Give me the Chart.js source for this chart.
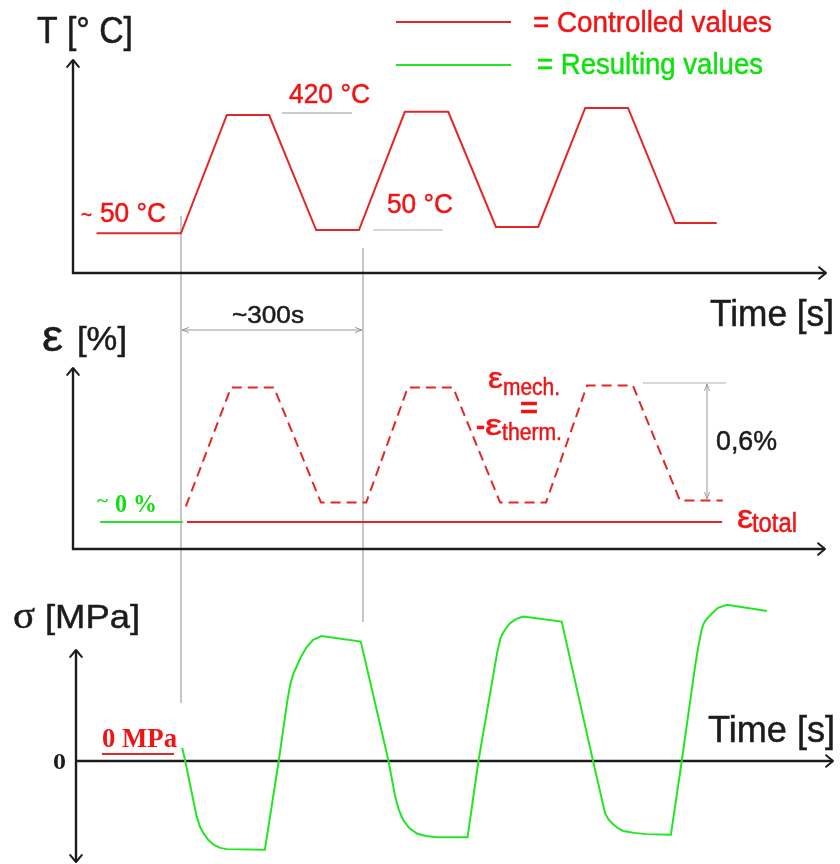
<!DOCTYPE html>
<html>
<head>
<meta charset="utf-8">
<script src="https://cdn.jsdelivr.net/npm/chart.js@4/dist/chart.umd.min.js"></script>
<style>
html,body{margin:0;padding:0;background:#fff;}
#wrap{position:relative;width:840px;height:864px;}
canvas{display:block;}
</style>
</head>
<body>
<div id="wrap"><canvas id="c" width="840" height="864"></canvas></div>
<script>
// ---------- DATA (time in s, t = 0 at start of first heating) ----------
const tempTime  = [-140, 0, 76, 146, 224, 295, 371, 443, 522, 592, 670, 741, 819, 888];
const tempValue = [50, 50, 420, 420, 60, 60, 430, 430, 70, 70, 442, 442, 82, 82];           // °C

const mechTime  = [8, 83, 154, 232, 307, 376, 451, 529, 605, 673, 749, 827, 898];
const mechValue = [0.08, 0.69, 0.69, 0.10, 0.10, 0.69, 0.69, 0.10, 0.10, 0.70, 0.70, 0.11, 0.11]; // %

const totalPreTime  = [-134, 3];
const totalPreValue = [0, 0];
const totalTime  = [10, 897];
const totalValue = [0, 0];

const stressTime  = [2, 7, 26, 31, 37, 45, 54, 65, 76, 139, 162, 176, 181, 186, 192, 199, 208, 219, 233, 298,
                     344, 355, 361, 368, 378, 391, 406, 424, 475, 493, 520, 524, 529, 532, 537, 545, 555, 567, 631,
                     683, 703, 709, 717, 725, 733, 751, 772, 812, 830, 852, 857, 863, 866, 870, 880, 890, 905, 971];
const stressValue = [21, 0, -89, -104, -115, -126, -134, -139, -141, -142, 0, 95, 122, 139, 152, 167, 182, 194, 200, 191,
                     0, -57, -78, -94, -107, -116, -120, -122, -122, 0, 151, 173, 194, 202, 210, 220, 227, 231, 223,
                     0, -84, -94, -102, -108, -112, -115, -117, -118, 0, 151, 181, 210, 219, 226, 236, 245, 250, 240]; // MPa

const cycleMarks = [0, 300]; // s

// ---------- helpers ----------
const H = 864;
function rangeFor(v1, p1, v2, p2) {
  const k = (v1 - v2) / (p2 - p1);
  return { min: v1 - (H - p1) * k, max: v1 + p1 * k };
}
const zip = (xs, ys) => xs.map((x, i) => ({ x: x, y: ys[i] }));

const RED = '#e32626';
const RED_TXT = '#f01414';
const GREEN = '#22e622';
const GREEN_TXT = '#10e010';
const DARK = '#1c1c1c';
const GRAY = '#b4b4b4';

const rT = rangeFor(50, 233.3, 420, 115);
const rE = rangeFor(0, 522, 0.6, 405);
const rS = rangeFor(0, 761, 200, 636);

function txt(ctx, s, x, y, font, color, w, sw) {
  ctx.save();
  ctx.font = font; ctx.fillStyle = color; ctx.strokeStyle = color;
  ctx.textAlign = 'left'; ctx.textBaseline = 'alphabetic';
  const m = ctx.measureText(s).width;
  const sx = w ? w / m : 1;
  ctx.translate(x, y); ctx.scale(sx, 1);
  ctx.fillText(s, 0, 0);
  const lw = sw === undefined ? 0.5 : sw;
  if (lw > 0) { ctx.lineWidth = lw; ctx.strokeText(s, 0, 0); }
  ctx.restore();
}
function seg(ctx, x1, y1, x2, y2, color, w) {
  ctx.save(); ctx.strokeStyle = color; ctx.lineWidth = w; ctx.lineCap = 'butt';
  ctx.beginPath(); ctx.moveTo(x1, y1); ctx.lineTo(x2, y2); ctx.stroke(); ctx.restore();
}
function head(ctx, x, y, ang, len, spread, color, w) {
  ctx.save(); ctx.strokeStyle = color; ctx.lineWidth = w; ctx.lineCap = 'round'; ctx.lineJoin = 'round';
  ctx.beginPath();
  ctx.moveTo(x - len * Math.cos(ang - spread), y - len * Math.sin(ang - spread));
  ctx.lineTo(x, y);
  ctx.lineTo(x - len * Math.cos(ang + spread), y - len * Math.sin(ang + spread));
  ctx.stroke(); ctx.restore();
}
const UP = -Math.PI / 2, DOWN = Math.PI / 2, RIGHT = 0, LEFT = Math.PI;

const decor = {
  id: 'decor',
  beforeDatasetsDraw(chart) {
    const ctx = chart.ctx;
    const xs = chart.scales.x, yS = chart.scales.yS;
    const x0 = xs.getPixelForValue(cycleMarks[0]);
    const x1 = xs.getPixelForValue(cycleMarks[1]);
    // vertical reference lines
    seg(ctx, x0, 216, x0, 703, GRAY, 1.5);
    seg(ctx, x1 + 1, 248, x1 + 1, 622, GRAY, 1.5);
    // ~300s dimension
    seg(ctx, x0 + 1, 330, x1, 330, '#9a9a9a', 1);
    head(ctx, x0 + 1, 330, LEFT, 7, 0.35, '#9a9a9a', 1);
    head(ctx, x1, 330, RIGHT, 7, 0.35, '#9a9a9a', 1);
    // temperature level marks
    seg(ctx, 282, 113, 352, 113, '#9a9a9a', 1.2);
    seg(ctx, 373, 230, 443, 230, '#b0b0b0', 1.2);
    // 0,6% dimension
    seg(ctx, 643, 383, 726, 383, '#b0b0b0', 1.2);
    seg(ctx, 707, 384, 707, 499, '#9a9a9a', 1);
    head(ctx, 707, 384, UP, 7, 0.35, '#9a9a9a', 1);
    head(ctx, 707, 499, DOWN, 7, 0.35, '#9a9a9a', 1);

    // axes panel 1
    seg(ctx, 73, 274, 73, 60, DARK, 2.4);
    head(ctx, 73, 60, UP, 9, 0.7, DARK, 2);
    seg(ctx, 72, 273, 826, 273, DARK, 2.4);
    head(ctx, 826, 273, RIGHT, 9, 0.7, DARK, 2);
    // axes panel 2
    seg(ctx, 73, 550, 73, 368, DARK, 2.4);
    head(ctx, 73, 368, UP, 9, 0.7, DARK, 2);
    seg(ctx, 72, 549, 825, 549, DARK, 2.4);
    head(ctx, 825, 549, RIGHT, 9, 0.7, DARK, 2);
    // axes panel 3
    const z = yS.getPixelForValue(0);
    seg(ctx, 76, 862, 76, 650, DARK, 2.4);
    head(ctx, 76, 650, UP, 9, 0.7, DARK, 2);
    head(ctx, 76, 862, DOWN, 9, 0.7, DARK, 2);
    seg(ctx, 76, z, 833, z, DARK, 2.4);
    head(ctx, 833, z, RIGHT, 9, 0.7, DARK, 2);

    // legend samples
    seg(ctx, 396, 22, 511, 22, RED, 2);
    seg(ctx, 396, 65, 511, 65, GREEN, 2);
    // 0 MPa underline
    seg(ctx, 102, 754, 174, 754, RED, 2.2);
  },
  afterDatasetsDraw(chart) {
    const ctx = chart.ctx;
    const SANS = '"Liberation Sans", Arial, sans-serif';
    const SERIF = '"Liberation Serif", "Times New Roman", serif';
    // legend
    txt(ctx, '= Controlled values', 533, 32, '30px ' + SANS, RED_TXT, 239);
    txt(ctx, '= Resulting values', 537, 74, '30px ' + SANS, GREEN_TXT, 226);
    // panel 1
    txt(ctx, 'T [° C]', 37, 43, '36px ' + SANS, DARK, 96);
    txt(ctx, '420 °C', 289, 103, '28px ' + SANS, RED_TXT, 81);
    txt(ctx, '~', 81, 222, '22px ' + SANS, RED_TXT, 11);
    txt(ctx, '50 °C', 100, 222, '28px ' + SANS, RED_TXT, 66);
    txt(ctx, '50 °C', 387, 213, '28px ' + SANS, RED_TXT, 66);
    txt(ctx, 'Time [s]', 710, 326, '36px ' + SANS, DARK, 124);
    // panel 2
    txt(ctx, '~300s', 232, 323, '24px ' + SANS, DARK, 72);
    txt(ctx, 'ε', 42, 351, '44px ' + SANS, DARK, 21);
    txt(ctx, '[%]', 77, 350, '34px ' + SANS, DARK, 50);
    txt(ctx, '~', 97, 507, 'bold 18px ' + SERIF, GREEN_TXT, 11, 0);
    txt(ctx, '0 %', 115, 512, 'bold 26px ' + SERIF, GREEN_TXT, 42, 0);
    txt(ctx, 'ε', 488, 388, '30px ' + SANS, RED_TXT, 15);
    txt(ctx, 'mech.', 503, 395, '23px ' + SANS, RED_TXT, 57);
    txt(ctx, '=', 520, 417, 'bold 28px ' + SANS, RED_TXT, 18);
    txt(ctx, '-', 476, 434, 'bold 26px ' + SANS, RED_TXT, 9);
    txt(ctx, 'ε', 485, 435, '30px ' + SANS, RED_TXT, 17);
    txt(ctx, 'therm.', 502, 440, '23px ' + SANS, RED_TXT, 60);
    txt(ctx, '0,6%', 716, 450, '28px ' + SANS, DARK, 61);
    txt(ctx, 'ε', 737, 528, '34px ' + SANS, RED_TXT, 16);
    txt(ctx, 'total', 752, 532, '27px ' + SANS, RED_TXT, 45);
    // panel 3
    txt(ctx, 'σ', 13, 628, '38px ' + SERIF, DARK, 22);
    txt(ctx, '[MPa]', 45, 628, '34px ' + SANS, DARK, 95);
    txt(ctx, '0 MPa', 102, 747, 'bold 28px ' + SERIF, RED_TXT, 75, 0);
    txt(ctx, '0', 53, 769, 'bold 24px ' + SERIF, DARK, 13, 0);
    txt(ctx, 'Time [s]', 708, 742, '36px ' + SANS, DARK, 127);
  }
};

const common = { pointRadius: 0, pointHoverRadius: 0, borderWidth: 2, tension: 0, fill: false, xAxisID: 'x' };

new Chart(document.getElementById('c'), {
  type: 'line',
  data: {
    datasets: [
      Object.assign({}, common, { label: 'Temperature', data: zip(tempTime, tempValue), borderColor: RED, yAxisID: 'yT' }),
      Object.assign({}, common, { label: 'ε mech = -ε therm', data: zip(mechTime, mechValue), borderColor: RED, borderDash: [10, 6], yAxisID: 'yE' }),
      Object.assign({}, common, { label: 'ε total (initial)', data: zip(totalPreTime, totalPreValue), borderColor: GREEN, yAxisID: 'yE' }),
      Object.assign({}, common, { label: 'ε total', data: zip(totalTime, totalValue), borderColor: RED, yAxisID: 'yE' }),
      Object.assign({}, common, { label: 'Stress', data: zip(stressTime, stressValue), borderColor: GREEN, yAxisID: 'yS' })
    ]
  },
  options: {
    responsive: false,
    devicePixelRatio: 1,
    animation: false,
    layout: { padding: 0 },
    plugins: { legend: { display: false }, tooltip: { enabled: false } },
    events: [],
    scales: {
      x:  { type: 'linear', display: false, min: -300, max: 1092.3 },
      yT: { type: 'linear', display: false, min: rT.min, max: rT.max },
      yE: { type: 'linear', display: false, min: rE.min, max: rE.max },
      yS: { type: 'linear', display: false, min: rS.min, max: rS.max }
    }
  },
  plugins: [decor]
});
</script>
</body>
</html>
